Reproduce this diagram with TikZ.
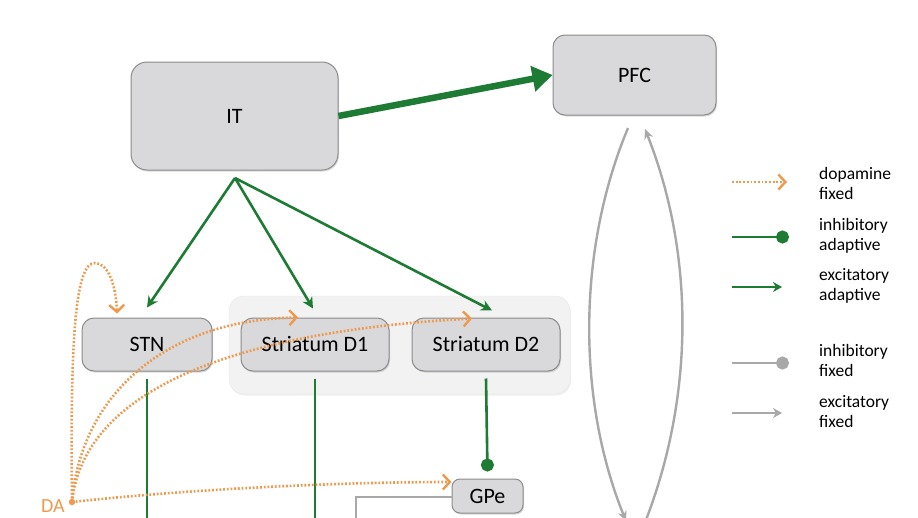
\documentclass[tikz,border=0pt]{standalone}
\usepackage{fontspec}
\setmainfont{Carlito}
\usetikzlibrary{arrows.meta,shadows}
\definecolor{dgreen}{HTML}{1E7B34}
\definecolor{dorange}{HTML}{EE9A4E}
\definecolor{lgray}{HTML}{A8A8A8}
\definecolor{nfill}{HTML}{D9D9DB}
\definecolor{nborder}{HTML}{8C8C8C}
\definecolor{gfill}{HTML}{F2F2F2}
\begin{document}
\begin{tikzpicture}[x=1pt,y=-1pt,
  box/.style={draw=nborder,line width=1pt,fill=nfill,rounded corners=12pt,inner sep=0pt,
    font=\fontsize{22}{26}\selectfont,
    drop shadow={opacity=0.3,shadow xshift=1pt,shadow yshift=-1.5pt}},
  exc/.style={draw=dgreen,line width=2.6pt,-{Stealth[length=11pt,width=11pt]}},
  bigexc/.style={draw=dgreen,line width=6.5pt,-{Triangle[length=20pt,width=25pt]}},
  inh/.style={draw=dgreen,line width=2.6pt,-{Circle[length=13pt]}},
  gexc/.style={draw=lgray,line width=2.4pt,-{Stealth[length=10pt,width=9pt]}},
  ginh/.style={draw=lgray,line width=2.4pt,-{Circle[length=13pt]}},
  gline/.style={draw=lgray,line width=2.4pt},
  dop/.style={draw=dorange,line width=2.6pt,dash pattern=on 1.8pt off 1.9pt,
    -{Straight Barb[length=7pt,width=15pt,line width=2.4pt]}},
  legtext/.style={anchor=north west,inner sep=0pt,align=left,font=\fontsize{17.5}{20.5}\selectfont}
]
\useasboundingbox (0,0) rectangle (918,517);
\fill[white] (0,0) rectangle (918,517);
\clip (0,0) rectangle (918,517);

% group background
\node[draw=gray!18,fill=gfill,rounded corners=15pt,minimum width=341pt,minimum height=98pt,inner sep=0pt,
  drop shadow={opacity=0.12,shadow xshift=1pt,shadow yshift=-1.5pt}] (grp) at (399.5,345) {};

% nodes
\node[box,minimum width=207pt,minimum height=108pt,rounded corners=16pt] (IT) at (234.5,116) {IT};
\node[box,minimum width=163pt,minimum height=80pt] (PFC) at (634.5,75) {PFC};
\node[box,minimum width=130pt,minimum height=53pt] (STN) at (147,344.5) {STN};
\node[box,minimum width=148pt,minimum height=53pt] (D1) at (315,344.5) {Striatum D1};
\node[box,minimum width=148pt,minimum height=53pt] (D2) at (486,344.5) {Striatum D2};
\node[box,minimum width=71pt,minimum height=34pt,rounded corners=8pt] (GPe) at (487.5,496) {GPe};
\node[anchor=north west,inner sep=0pt,text depth=0pt,text=dorange,font=\fontsize{20}{24}\selectfont] (DAlab) at (41,499) {DA};

% coordinates
\coordinate (itb) at (235,178);
\coordinate (da) at (72,502);
\coordinate (stnend) at (147,530);
\coordinate (d1end) at (315,530);
\coordinate (gpeend) at (356,530);
\coordinate (pfclstart) at (628,128);
\coordinate (pfclend) at (626,521);
\coordinate (pfcrstart) at (642,530);
\coordinate (pfcrend) at (645,129);

% IT -> PFC
\draw[bigexc] (IT.east) -- (PFC.west);

% IT fan
\draw[exc] (itb) -- ([yshift=10pt]STN.north);
\draw[exc] (itb) -- ([shift={(-2pt,9pt)}]D1.north);
\draw[exc] (itb) -- ([shift={(6pt,7pt)}]D2.north);

% downward green
\draw[dgreen,line width=2.6pt] ([yshift=-7pt]STN.south) -- (stnend);
\draw[dgreen,line width=2.6pt] ([yshift=-7pt]D1.south) -- (d1end);
\draw[inh] ([yshift=-7pt]D2.south) -- ([yshift=7pt]GPe.north);

% GPe gray
\draw[gline] ([yshift=-1pt]GPe.west) -| (gpeend);

% PFC loops
\draw[gexc] (pfclstart) .. controls (577,250) and (577,400) .. (pfclend);
\draw[gexc] (pfcrstart) .. controls (695,400) and (695,255) .. (pfcrend);

% dopamine
\draw[dop] (da) .. controls (70,330) and (76,263) .. (95,263)
  .. controls (108,263) and (116,285) .. ([shift={(-30pt,4pt)}]STN.north);
\draw[dop] (da) .. controls (80,400) and (160,320) .. ([shift={(-17pt,0pt)}]D1.north);
\draw[dop] (da) .. controls (85,380) and (260,330) .. ([shift={(-14pt,-1pt)}]D2.north);
\draw[dop] (da) .. controls (200,488) and (350,482) .. ([yshift=14pt]GPe.west);
\fill[dorange] (da) circle (3.2pt);

% legend
\coordinate (l1a) at (732,182); \coordinate (l1b) at (787,182);
\coordinate (l2a) at (732,237); \coordinate (l2b) at (789,237);
\coordinate (l3a) at (732,287); \coordinate (l3b) at (782,287);
\coordinate (l4a) at (732,363); \coordinate (l4b) at (789,363);
\coordinate (l5a) at (732,413); \coordinate (l5b) at (782,413);
\draw[dop] (l1a) -- (l1b);
\draw[inh] (l2a) -- (l2b);
\draw[draw=dgreen,line width=2.6pt,-{Stealth[length=9pt,width=10pt]}] (l3a) -- (l3b);
\draw[ginh] (l4a) -- (l4b);
\draw[draw=lgray,line width=2.4pt,-{Stealth[length=9pt,width=10pt]}] (l5a) -- (l5b);
\node[legtext] (t1) at (819,167) {dopamine\\fixed};
\node[legtext] (t2) at (819,218) {inhibitory\\adaptive};
\node[legtext] (t3) at (819,268) {excitatory\\adaptive};
\node[legtext] (t4) at (819,344) {inhibitory\\fixed};
\node[legtext] (t5) at (819,395) {excitatory\\fixed};
\end{tikzpicture}
\end{document}
